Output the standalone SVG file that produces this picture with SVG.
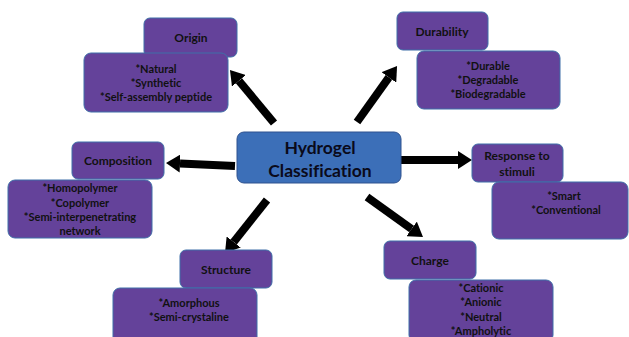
<svg xmlns="http://www.w3.org/2000/svg" width="629" height="337" viewBox="0 0 629 337">
<defs>
<style>
.p{fill:#64429A;stroke:#3F6FA8;stroke-width:1}
.c{fill:#3C6FB8;stroke:#2F528F;stroke-width:1}
text{font-family:Lato,"Open Sans","Liberation Sans",sans-serif;font-weight:bold;fill:#111;text-anchor:middle;font-variant-ligatures:none}
.h{font-size:12px}
.i{font-size:11px}
.t{font-size:17.5px;fill:#0a0a1a}
.a{stroke:#000;stroke-width:8;fill:none;marker-end:url(#ah)}
</style>
<marker id="ah" markerUnits="userSpaceOnUse" markerWidth="14" markerHeight="18" viewBox="0 0 14 18" refX="0" refY="9" orient="auto">
<path d="M0,0 L14,9 L0,18 z" fill="#000"/>
</marker>
</defs>
<rect width="629" height="337" fill="#fff"/>
<g id="connectors">
<line class="a" x1="274" y1="123" x2="238.9" y2="80.8"/>
<line class="a" x1="357" y1="122" x2="388.9" y2="77.4"/>
<line class="a" x1="235" y1="166" x2="180" y2="163.6"/>
<line class="a" x1="401" y1="160" x2="458" y2="160"/>
<line class="a" x1="267" y1="200" x2="233.7" y2="242"/>
<line class="a" x1="367" y1="197" x2="411.6" y2="228.9"/>
</g>
<g id="center">
<rect class="c" x="237" y="132" width="164" height="51" rx="7"/>
<text class="t" x="320" y="154">Hydrogel</text>
<text class="t" x="320" y="177">Classification</text>
</g>
<g id="origin">
<rect class="p" x="144" y="18" width="93" height="39" rx="6"/>
<text class="h" x="191" y="42">Origin</text>
</g>
<g id="origin-items">
<rect class="p" x="84" y="53" width="144" height="59" rx="7"/>
<text class="i" x="156" y="73">*Natural</text>
<text class="i" x="156" y="87">*Synthetic</text>
<text class="i" x="156" y="101">*Self-assembly peptide</text>
</g>
<g id="durability">
<rect class="p" x="397" y="12" width="91" height="38" rx="6"/>
<text class="h" x="442" y="36">Durability</text>
</g>
<g id="durability-items">
<rect class="p" x="417" y="51" width="143" height="58" rx="7"/>
<text class="i" x="488" y="70">*Durable</text>
<text class="i" x="488" y="84">*Degradable</text>
<text class="i" x="488" y="98">*Biodegradable</text>
</g>
<g id="composition">
<rect class="p" x="72" y="142" width="92" height="37" rx="6"/>
<text class="h" x="118" y="165">Composition</text>
</g>
<g id="composition-items">
<rect class="p" x="8" y="180" width="144" height="58" rx="7"/>
<text class="i" x="80" y="192">*Homopolymer</text>
<text class="i" x="80" y="207">*Copolymer</text>
<text class="i" x="80" y="221">*Semi-interpenetrating</text>
<text class="i" x="80" y="235">network</text>
</g>
<g id="response">
<rect class="p" x="472" y="144" width="91" height="38" rx="6"/>
<text class="h" x="517" y="160">Response to</text>
<text class="h" x="517" y="176">stimuli</text>
</g>
<g id="response-items">
<rect class="p" x="492" y="182" width="136" height="57" rx="7"/>
<text class="i" x="564" y="200">*Smart</text>
<text class="i" x="566" y="214">*Conventional</text>
</g>
<g id="structure">
<rect class="p" x="180" y="250" width="92" height="38" rx="6"/>
<text class="h" x="226" y="274">Structure</text>
</g>
<g id="structure-items">
<rect class="p" x="113" y="288" width="144" height="58" rx="7"/>
<text class="i" x="189" y="307">*Amorphous</text>
<text class="i" x="189" y="321">*Semi-crystaline</text>
</g>
<g id="charge">
<rect class="p" x="384" y="241" width="92" height="38" rx="6"/>
<text class="h" x="430" y="265">Charge</text>
</g>
<g id="charge-items">
<rect class="p" x="409" y="280" width="144" height="62" rx="7"/>
<text class="i" x="481" y="292">*Cationic</text>
<text class="i" x="481" y="306">*Anionic</text>
<text class="i" x="481" y="321">*Neutral</text>
<text class="i" x="481" y="335">*Ampholytic</text>
</g>
</svg>
